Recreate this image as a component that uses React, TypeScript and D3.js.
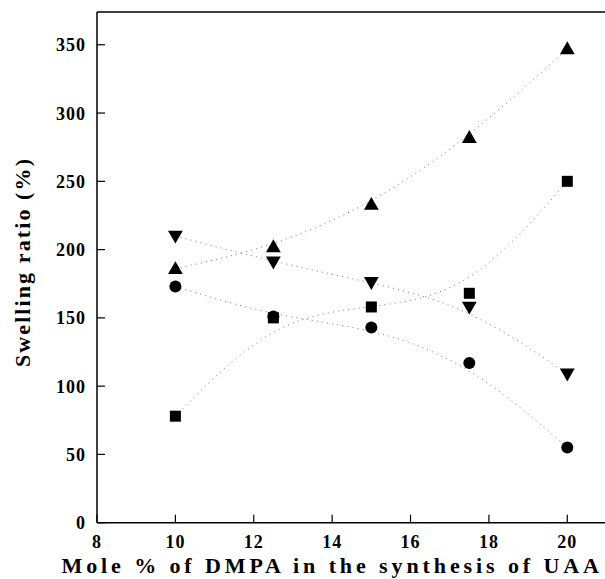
import React from "react";
import * as d3 from "d3";

const xValues = [10, 12.5, 15, 17.5, 20];
const triUp = [186, 202, 233, 282, 347];
const triDown = [210, 191, 176, 158, 109];
const circles = [173, 151, 143, 117, 55];
const squares = [78, 150, 158, 168, 250];
const xTicks = [8, 10, 12, 14, 16, 18, 20];
const yTicks = [0, 50, 100, 150, 200, 250, 300, 350];

const W = 605, H = 579;
const left = 97, right = 606.5, top = 12, bottom = 522.7;

export default function App() {
  const x = d3.scaleLinear().domain([8, 21]).range([left, right]);
  const y = d3.scaleLinear().domain([0, 374]).range([bottom, top]);
  const series = [
    { vals: triUp, shape: "up" },
    { vals: triDown, shape: "down" },
    { vals: circles, shape: "circle" },
    { vals: squares, shape: "square" },
  ];
  const font = "'Liberation Serif', 'Times New Roman', serif";
  const line = d3
    .line<number>()
    .x((_, i) => x(xValues[i]))
    .y((d) => y(d))
    .curve(d3.curveBasis);
  const marker = (shape: string, cx: number, cy: number, key: string) => {
    if (shape === "circle") return <circle key={key} cx={cx} cy={cy} r={6} fill="#000" />;
    if (shape === "square") return <rect key={key} x={cx - 5.5} y={cy - 5.5} width={11} height={11} fill="#000" />;
    const sym = d3.symbol().type(d3.symbolTriangle).size(95)();
    return (
      <path key={key} d={sym as string} transform={`translate(${cx},${cy + (shape === "up" ? 1 : -1)}) rotate(${shape === "up" ? 0 : 180})`} fill="#000" />
    );
  };
  return (
    <svg width={W} height={H} style={{ position: "absolute", left: 0, top: 0, background: "#fff" }}>
      {series.map((s, si) => (
        <path key={"l" + si} d={line(s.vals) as string} fill="none" stroke="#8a8a8a" strokeWidth={1} strokeDasharray="1.2,4" />
      ))}
      {series.map((s, si) => s.vals.map((v, i) => marker(s.shape, x(xValues[i]), y(v), `m${si}-${i}`)))}
      <line x1={left} x2={W} y1={top} y2={top} stroke="#000" strokeWidth={1.5} />
      <line x1={left} x2={left} y1={top} y2={bottom} stroke="#000" strokeWidth={1.5} />
      <line x1={left} x2={W} y1={bottom} y2={bottom} stroke="#000" strokeWidth={1.5} />
      {yTicks.map((t) => (
        <g key={"y" + t}>
          <line x1={left} x2={left + 8} y1={y(t)} y2={y(t)} stroke="#000" strokeWidth={1.2} />
          <text x={86} y={y(t)} dy="0.36em" textAnchor="end" fontFamily={font} fontWeight="bold" fontSize={18} letterSpacing={1}>
            {t}
          </text>
        </g>
      ))}
      {xTicks.map((t) => (
        <g key={"x" + t}>
          <line x1={x(t)} x2={x(t)} y1={bottom} y2={bottom - 8} stroke="#000" strokeWidth={1.2} />
          <text x={x(t)} y={548} textAnchor="middle" fontFamily={font} fontWeight="bold" fontSize={18} letterSpacing={1}>
            {t}
          </text>
        </g>
      ))}
      <text x={x(14)} y={573} textAnchor="middle" fontFamily={font} fontWeight="bold" fontSize={22} letterSpacing={3.9}>
        Mole % of DMPA in the synthesis of UAA
      </text>
      <text transform={`translate(30,262) rotate(-90)`} textAnchor="middle" fontFamily={font} fontWeight="bold" fontSize={22} letterSpacing={2.1}>
        Swelling ratio (%)
      </text>
    </svg>
  );
}
